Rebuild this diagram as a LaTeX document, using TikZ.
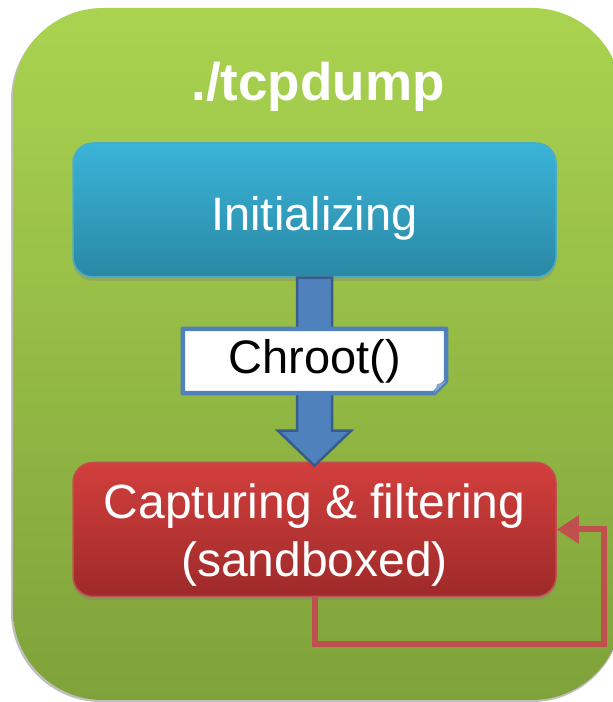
\documentclass[tikz,border=0pt]{standalone}
\usepackage{fontspec}
\setmainfont{Liberation Sans}
\usetikzlibrary{arrows.meta,calc,shadows}
\definecolor{gtop}{HTML}{AAD350}
\definecolor{gbot}{HTML}{7FA23A}
\definecolor{btop}{HTML}{3AB4D8}
\definecolor{bbot}{HTML}{2A88A5}
\definecolor{bedge}{HTML}{4BACC6}
\definecolor{rtop}{HTML}{D23F3D}
\definecolor{rbot}{HTML}{9E2A29}
\definecolor{redge}{HTML}{C0504D}
\definecolor{arrfill}{HTML}{4F81BD}
\definecolor{arredge}{HTML}{385D8A}
\definecolor{loopc}{HTML}{C0504D}
\pgfdeclarelayer{back}
\pgfdeclarelayer{mid}
\pgfsetlayers{back,mid,main}
\begin{document}
\begin{tikzpicture}[x=1pt,y=1pt,
  stagebox/.style={rounded corners=20pt, minimum width=483pt, minimum height=134pt,
    text=white, align=center, line width=1.5pt,
    drop shadow={opacity=0.35, shadow xshift=0pt, shadow yshift=-4pt}},
  labeltext/.style={text=black, font=\fontsize{47}{50}\selectfont, inner sep=0pt,
    minimum width=263pt, minimum height=64pt},
  loopline/.style={loopc, line width=6pt, line join=miter,
    -{Triangle[length=22pt,width=27pt]}},
  bigarrow/.style={fill=arrfill, draw=arredge, line width=2.5pt, line join=miter}
]
\useasboundingbox (0,0) rectangle (613,702);
\begin{pgfonlayer}{back}
  \begin{scope}
    \clip (0,0) rectangle (613,702);
    \fill[black, opacity=0.25, rounded corners=90pt] (11,0) rectangle (622,692);
    \shade[top color=gtop, bottom color=gbot, rounded corners=90pt] (13,2) rectangle (622,694);
  \end{scope}
  \node[stagebox, top color=btop, bottom color=bbot, draw=bedge, text height=50pt,
        font=\fontsize{47}{55}\selectfont] (init) at (314.5,492) {Initializing};
  \node[stagebox, top color=rtop, bottom color=rbot, draw=redge, text height=103pt,
        font=\fontsize{48}{58}\selectfont] (cap) at (314.5,172.5) {Capturing \& filtering\\(sandboxed)};
\end{pgfonlayer}
\node[font=\bfseries\fontsize{53}{53}\selectfont, text=white, anchor=base] (title) at (318,601) {./tcpdump};
\node[labeltext] (ch) at (314.5,341) {Chroot()};
\begin{pgfonlayer}{mid}
  \draw[bigarrow] ($(init.south)+(-17.5,0)$) -- ($(init.south)+(17.5,0)$)
     -- ($(cap.north)+(17.5,31)$) -- ($(cap.north)+(36.5,31)$)
     -- ($(cap.north)+(0,-4)$) -- ($(cap.north)+(-36.5,31)$)
     -- ($(cap.north)+(-17.5,31)$) -- cycle;
  \draw[arrfill, line width=4.5pt, fill=white, line join=round]
     (ch.north west) -- (ch.north east) -- ($(ch.south east)+(0,12)$)
     -- ($(ch.south east)+(-12,0)$) -- (ch.south west) -- cycle;
  \fill[arrfill!70!white] ($(ch.south east)+(0,12)$) -- ($(ch.south east)+(-12,0)$)
     -- ($(ch.south east)+(-9,9)$) -- cycle;
\end{pgfonlayer}
\draw[loopline] (cap.south) -- ++(0,-47) -| ([xshift=47pt]cap.east) -- (cap.east);
\end{tikzpicture}
\end{document}
